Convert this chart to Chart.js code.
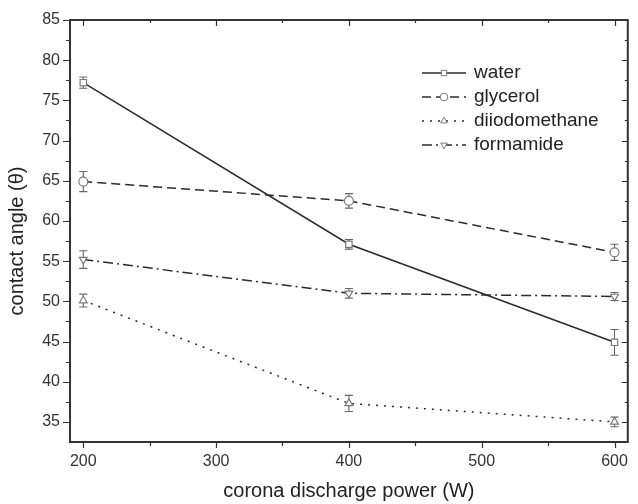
<!DOCTYPE html>
<html>
<head>
<meta charset="utf-8">
<script src="https://cdn.jsdelivr.net/npm/chart.js@4.4.0/dist/chart.umd.min.js"></script>
<style>
  html, body { margin: 0; padding: 0; background: #fff; }
</style>
</head>
<body>
<canvas id="contactChart" width="638" height="504"></canvas>
<script>
// corona discharge power (W)
const power = [200, 400, 600];

// contact angle values and error bars for each liquid
const seriesNames = ['water', 'glycerol', 'diiodomethane', 'formamide'];
const water = [77.2, 57.1, 44.9];
const waterErr = [0.7, 0.6, 1.6];
const glycerol = [64.9, 62.5, 56.1];
const glycerolErr = [1.25, 0.9, 1.0];
const diiodomethane = [50.1, 37.3, 35.0];
const diiodomethaneErr = [0.8, 1.0, 0.6];
const formamide = [55.2, 51.0, 50.6];
const formamideErr = [1.1, 0.6, 0.5];

const xTicks = [200, 300, 400, 500, 600];
const yTicks = [35, 40, 45, 50, 55, 60, 65, 70, 75, 80, 85];

const FONT = '"Liberation Sans", Arial, Helvetica, sans-serif';
const LINE = '#2b2b2b';
const MARK = '#7a7a7a';

function toPoints(vals) {
    return power.map((x, i) => ({ x: x, y: vals[i] }));
}

function makeSet(label, vals, errs, dash, style, rot) {
    return {
        label: label,
        data: toPoints(vals),
        errors: errs,
        borderColor: LINE,
        borderWidth: 1.5,
        borderDash: dash,
        pointStyle: style,
        rotation: rot,
        pointRadius: 4.5,
        pointBorderWidth: 1.2,
        pointBorderColor: MARK,
        pointBackgroundColor: '#fff',
        tension: 0
    };
}

// vertical error bars, drawn under the markers
const errorBars = {
    id: 'errorBars',
    beforeDatasetsDraw(chart) {
        const ctx = chart.ctx;
        const xs = chart.scales.x, ys = chart.scales.y;
        ctx.save();
        ctx.strokeStyle = '#666';
        ctx.lineWidth = 1.1;
        chart.data.datasets.forEach(ds => {
            ds.data.forEach((p, j) => {
                const e = ds.errors[j];
                const x = xs.getPixelForValue(p.x);
                const y1 = ys.getPixelForValue(p.y + e);
                const y2 = ys.getPixelForValue(p.y - e);
                ctx.beginPath();
                ctx.moveTo(x, y1); ctx.lineTo(x, y2);
                ctx.moveTo(x - 4, y1); ctx.lineTo(x + 4, y1);
                ctx.moveTo(x - 4, y2); ctx.lineTo(x + 4, y2);
                ctx.stroke();
            });
        });
        ctx.restore();
    }
};

// frame with outward ticks (left/bottom) and inward ticks (right/top), plus legend and y title
const frameAndLegend = {
    id: 'frameAndLegend',
    afterDraw(chart) {
        const ctx = chart.ctx;
        const a = chart.chartArea;
        const xs = chart.scales.x, ys = chart.scales.y;
        ctx.save();
        ctx.strokeStyle = '#333';
        ctx.lineWidth = 1.2;
        ctx.beginPath();
        for (let v = 35; v <= 85; v += 2.5) {
            const y = Math.round(ys.getPixelForValue(v)) + 0.5;
            const major = v % 5 === 0;
            ctx.moveTo(a.left, y); ctx.lineTo(a.left - (major ? 7 : 4), y);
            ctx.moveTo(a.right, y); ctx.lineTo(a.right - (major ? 6 : 3), y);
        }
        for (let v = 200; v <= 600; v += 50) {
            const x = Math.round(xs.getPixelForValue(v)) + 0.5;
            const major = v % 100 === 0;
            ctx.moveTo(x, a.bottom); ctx.lineTo(x, a.bottom + (major ? 6 : 4));
            ctx.moveTo(x, a.top); ctx.lineTo(x, a.top + (major ? 6 : 3));
        }
        ctx.stroke();
        ctx.lineWidth = 2;
        ctx.strokeRect(a.left, a.top, a.right - a.left, a.bottom - a.top);

        // y axis title
        ctx.fillStyle = '#222';
        ctx.font = '20px ' + FONT;
        ctx.textAlign = 'center';
        ctx.textBaseline = 'middle';
        ctx.translate(17.5, 241);
        ctx.rotate(-Math.PI / 2);
        ctx.fillText('contact angle (\u03B8)', 0, 0);
        ctx.restore();

        // legend
        ctx.save();
        ctx.font = '19px ' + FONT;
        ctx.textAlign = 'left';
        ctx.textBaseline = 'middle';
        chart.data.datasets.forEach((ds, i) => {
            const y = 73 + i * 24;
            ctx.strokeStyle = LINE;
            ctx.lineWidth = 1.5;
            ctx.setLineDash(ds.borderDash);
            ctx.beginPath();
            ctx.moveTo(422, y); ctx.lineTo(466, y);
            ctx.stroke();
            ctx.setLineDash([]);
            ctx.strokeStyle = MARK;
            ctx.fillStyle = '#fff';
            ctx.lineWidth = 1;
            Chart.helpers.drawPoint(ctx, {
                pointStyle: ds.pointStyle, rotation: ds.rotation, radius: 3.8, borderWidth: 1
            }, 444, y);
            ctx.fillStyle = '#222';
            ctx.fillText(ds.label, 474, y);
        });
        ctx.restore();
    }
};

const ctx = document.getElementById('contactChart').getContext('2d');
const chart = new Chart(ctx, {
    type: 'line',
    data: {
        datasets: [
            makeSet(seriesNames[0], water, waterErr, [], 'rect', 0),
            makeSet(seriesNames[1], glycerol, glycerolErr, [9, 5], 'circle', 0),
            makeSet(seriesNames[2], diiodomethane, diiodomethaneErr, [2, 6], 'triangle', 0),
            makeSet(seriesNames[3], formamide, formamideErr, [10, 4, 2, 4], 'triangle', 180)
        ]
    },
    options: {
        responsive: false,
        animation: false,
        devicePixelRatio: 1,
        layout: { padding: { top: 20, right: 2, left: 0, bottom: 0 } },
        plugins: {
            legend: { display: false },
            tooltip: { enabled: false }
        },
        scales: {
            x: {
                type: 'linear',
                min: 190,
                max: 610,
                afterBuildTicks: s => { s.ticks = xTicks.map(v => ({ value: v })); },
                afterFit: s => { s.height = 62; },
                grid: { display: false, drawTicks: false },
                border: { display: false },
                ticks: { autoSkip: false, maxRotation: 0, padding: 10, color: '#333', font: { family: FONT, size: 16 } },
                title: {
                    display: true,
                    text: 'corona discharge power (W)',
                    color: '#222',
                    font: { family: FONT, size: 20 },
                    padding: { top: 0, bottom: 1 }
                }
            },
            y: {
                type: 'linear',
                min: 32.5,
                max: 85,
                afterBuildTicks: s => { s.ticks = yTicks.map(v => ({ value: v })); },
                afterFit: s => { s.width = 70; },
                grid: { display: false, drawTicks: false },
                border: { display: false },
                ticks: { autoSkip: false, padding: 10, color: '#333', font: { family: FONT, size: 16 } }
            }
        }
    },
    plugins: [errorBars, frameAndLegend]
});
</script>
</body>
</html>
